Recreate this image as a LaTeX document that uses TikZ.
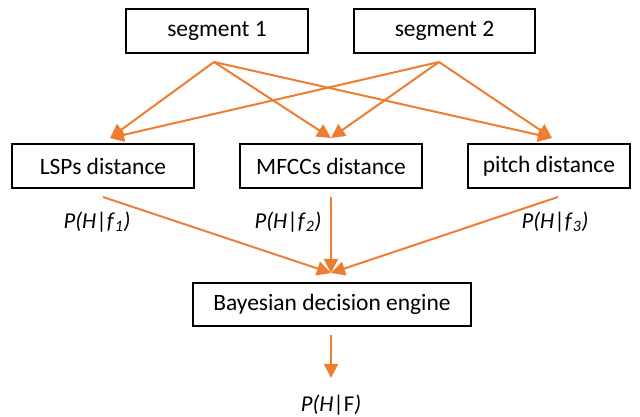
\documentclass[tikz,border=0pt]{standalone}
\usepackage{fontspec}
\setmainfont{Carlito}
\usetikzlibrary{arrows.meta}
\definecolor{flow}{HTML}{ED7D31}
\begin{document}
\begin{tikzpicture}[x=0.75pt,y=-0.75pt,
  box/.style={draw=black,line width=1.1pt,minimum height=33pt,inner sep=0pt,
    font=\fontsize{17.6}{20}\selectfont},
  flowarrow/.style={draw=flow,line width=1.5pt,
    -{Triangle[length=10.5pt,width=10.5pt]}},
  prob/.style={font=\fontsize{17}{19}\selectfont,inner sep=0pt}]
\useasboundingbox (0,0) rectangle (640,417);

% boxes
\node[box,minimum width=136.5pt]  (seg1) at (217,31)    {segment 1};
\node[box,minimum width=135.75pt] (seg2) at (444.5,31)  {segment 2};
\node[box,minimum width=136.5pt]  (lsp)  at (103,166)   {LSPs distance};
\node[box,minimum width=136.5pt]  (mfcc) at (331,166)   {MFCCs distance};
\node[box,minimum width=121.5pt]  (pitch) at (549,166)  {pitch distance};
\node[box,minimum width=208.5pt,minimum height=32.25pt] (bde) at (332,304.5) {Bayesian decision engine};

% connector end points
\coordinate (s1o) at (214,62);
\coordinate (s2o) at (439,62);
\coordinate (lspin) at (110,138);
\coordinate (mfccin) at (331,138);
\coordinate (pitchin) at (552,138);
\coordinate (lspout) at (103,197);
\coordinate (mfccout) at (331,197);
\coordinate (pitchout) at (558,197);
\coordinate (bdein) at (331,273);
\coordinate (bdeout) at (331,335);
\coordinate (result) at (331,378);

% segments to feature distances
\draw[flowarrow] (s1o) -- (lspin);
\draw[flowarrow] (s1o) -- (mfccin);
\draw[flowarrow] (s1o) -- (pitchin);
\draw[flowarrow] (s2o) -- (lspin);
\draw[flowarrow] (s2o) -- (mfccin);
\draw[flowarrow] (s2o) -- (pitchin);

% distances to decision engine
\draw[flowarrow] (lspout) -- (bdein);
\draw[flowarrow] (mfccout) -- (bdein);
\draw[flowarrow] (pitchout) -- (bdein);
\draw[flowarrow] (bdeout) -- (result);

% likelihood labels
\node[prob] (p1) at (97,222) {\textit{P(H}|\textit{f}\textsubscript{\textit{1}}\textit{)}};
\node[prob] (p2) at (288,222) {\textit{P(H}|\textit{f}\textsubscript{\textit{2}}\textit{)}};
\node[prob] (p3) at (555,222) {\textit{P(H}|\textit{f}\textsubscript{\textit{3}}\textit{)}};
\node[prob] (pf) at (331,405) {\textit{P(H}|F\textit{)}};
\end{tikzpicture}
\end{document}
